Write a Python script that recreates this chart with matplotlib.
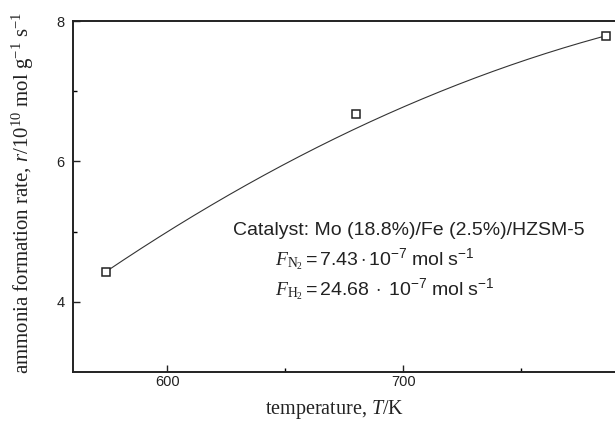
import numpy as np
import matplotlib
matplotlib.use("Agg")
import matplotlib.pyplot as plt

# measured points
temp = [574, 680, 786]
rate = [4.43, 6.67, 7.79]
# fitted line values at the same temperatures
rate_fit = [4.43, 6.47, 7.79]

plt.rcParams['font.family'] = 'Liberation Sans'
plt.rcParams['mathtext.fontset'] = 'custom'
plt.rcParams['mathtext.rm'] = 'Liberation Serif'
plt.rcParams['mathtext.it'] = 'Liberation Serif:italic'
plt.rcParams['mathtext.sf'] = 'Liberation Sans'

fig = plt.figure(figsize=(6.15, 4.28), dpi=100)
ax = fig.add_axes([0.1187, 0.1308, 0.9203, 0.8201])

coef = np.polyfit(temp, rate_fit, 2)
tt = np.linspace(temp[0], temp[-1], 200)
ax.plot(tt, np.polyval(coef, tt), color='#333333', lw=0.8)
ax.plot(temp, rate, ls='none', marker='s', ms=6, mfc='white',
        mec='#222222', mew=1.1)

ax.set_xlim(560, 800)
ax.set_ylim(3, 8)
ax.set_xticks([600, 700])
ax.set_xticks([650, 750], minor=True)
ax.set_yticks([4, 6, 8])
ax.set_yticks([5, 7], minor=True)
ax.tick_params(direction='in', which='major', length=5, width=1, labelsize=10.5,
               colors='#222222')
ax.tick_params(axis='x', which='major', pad=2)
ax.tick_params(axis='y', which='major', pad=6)
ax.tick_params(direction='in', which='minor', length=3, width=1)
for s in ax.spines.values():
    s.set_linewidth(1.4)
    s.set_color('#222222')

ax.set_xlabel('temperature, $T$/K', fontfamily='Liberation Serif', fontsize=14.5,
              color='#222222')
ax.xaxis.set_label_coords(0.463, -0.075)
ax.set_ylabel('ammonia formation rate, $r$/10$^{10}$ mol g$^{-1}$ s$^{-1}$',
              fontfamily='Liberation Serif', fontsize=15, color='#222222')
ax.yaxis.set_label_coords(-0.066, 0.51)

ax.text(628.0, 4.957, 'Catalyst: Mo (18.8%)/Fe (2.5%)/HZSM-5', fontsize=14,
        va='baseline', color='#222222')
ax.text(645.5, 4.514, r'$F_{\mathrm{N}_2}\mathsf{=7.43\cdot10^{-7}\ mol\ s^{-1}}$',
        fontsize=14, va='baseline', color='#222222')
ax.text(645.5, 4.086, r'$F_{\mathrm{H}_2}\mathsf{=24.68\ \cdot\ 10^{-7}\ mol\ s^{-1}}$',
        fontsize=14, va='baseline', color='#222222')

fig.savefig('out.png', dpi=100)
